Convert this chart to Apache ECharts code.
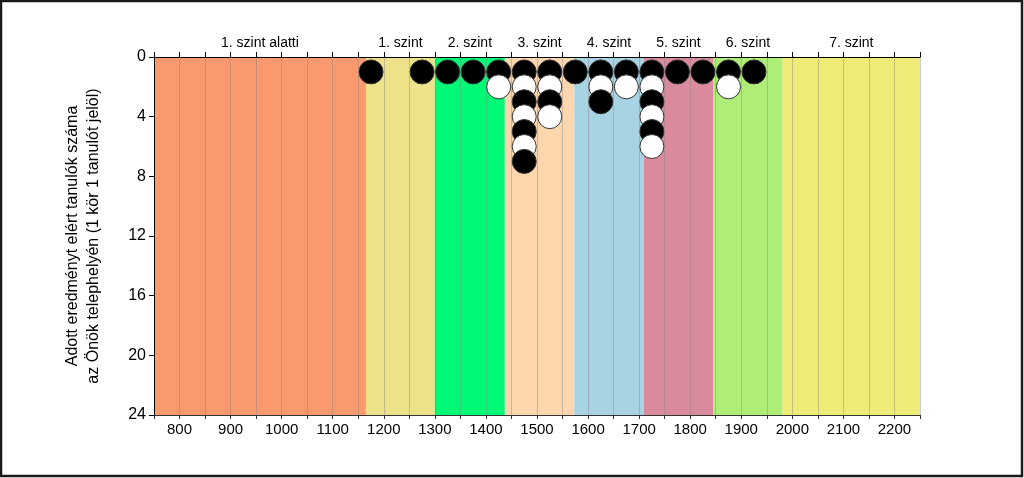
<!DOCTYPE html>
<html>
<head>
<meta charset="utf-8">
<script src="https://cdn.jsdelivr.net/npm/echarts@6/dist/echarts.min.js"></script>
<style>
  html, body { margin: 0; padding: 0; background: #fff; }
  #myChart { width: 1024px; height: 478px; }
</style>
</head>
<body>
<div id="myChart"></div>
<script>
// score bins (bin centres, 50 points wide) and number of students in each
const binCenters = [1175, 1225, 1275, 1325, 1375, 1425, 1475, 1525, 1575, 1625, 1675, 1725, 1775, 1825, 1875, 1925]
const binCounts = [1, 0, 1, 1, 1, 2, 7, 4, 1, 3, 2, 6, 1, 1, 2, 1]

// proficiency levels
const levelNames = ['1. szint alatti', '1. szint', '2. szint', '3. szint', '4. szint', '5. szint', '6. szint', '7. szint']
const levelFrom = [750, 1165, 1300, 1437, 1573, 1709, 1845, 1981]
const levelTo = [1165, 1300, 1437, 1573, 1709, 1845, 1981, 2250]
const levelColors = ['#FB996E', '#EDE18A', '#00FA76', '#FED6AE', '#A8D3E2', '#D98A9C', '#AEED78', '#EEEC76']

// one circle per student, stacked downwards; black/white alternating
const dots = []
binCenters.forEach((x, i) => {
  for (let k = 1; k <= binCounts[i]; k++) {
    dots.push({
      value: [x, k],
      itemStyle: { color: k % 2 === 1 ? '#000' : '#fff' }
    })
  }
})

const bands = levelNames.map((name, i) => [
  { name: name, xAxis: levelFrom[i], yAxis: 0, itemStyle: { color: levelColors[i], opacity: 1 } },
  { xAxis: levelTo[i], yAxis: 24 }
])

const myChart = echarts.init(document.getElementById('myChart'))
myChart.setOption({
  animation: false,
  textStyle: { fontFamily: 'Liberation Sans, Arial, sans-serif' },
  graphic: [{
    type: 'rect',
    shape: { x: 1, y: 1, width: 1021, height: 475 },
    style: { fill: 'none', stroke: '#1a1a1a', lineWidth: 2.5 },
    z: 100
  }],
  grid: { left: 154, right: 104, top: 57, bottom: 63 },
  xAxis: [
    {
      type: 'value',
      position: 'bottom',
      min: 750,
      max: 2250,
      interval: 50,
      z: 3,
      axisLine: { show: true, onZero: false, lineStyle: { color: '#333', width: 1 } },
      axisTick: { show: true, length: 4, lineStyle: { color: '#333' } },
      axisLabel: {
        color: '#000',
        fontSize: 15,
        margin: 7,
        formatter: v => (v % 100 === 0 && v > 750 && v < 2250 ? String(v) : '')
      },
      splitLine: { show: true, lineStyle: { color: 'rgba(130,130,130,0.4)', width: 1 } }
    },
    {
      type: 'value',
      position: 'top',
      min: 750,
      max: 2250,
      interval: 50,
      z: 3,
      axisLine: { show: true, onZero: false, lineStyle: { color: '#000', width: 1 } },
      axisTick: { show: true, length: 5, lineStyle: { color: '#000' } },
      axisLabel: { show: false },
      splitLine: { show: false }
    }
  ],
  yAxis: {
    type: 'value',
    inverse: true,
    min: 0,
    max: 24,
    interval: 4,
    z: 3,
    name: 'Adott eredményt elért tanulók száma\naz Önök telephelyén (1 kör 1 tanulót jelöl)',
    nameLocation: 'middle',
    nameRotate: 90,
    nameGap: 50,
    nameTextStyle: { color: '#000', fontSize: 16, lineHeight: 21 },
    axisLine: { show: true, lineStyle: { color: '#000', width: 1 } },
    axisTick: { show: true, length: 5, lineStyle: { color: '#000' } },
    axisLabel: { color: '#000', fontSize: 16, margin: 8 },
    splitLine: { show: false }
  },
  series: [
    {
      type: 'scatter',
      data: [],
      z: 1,
      silent: true,
      markArea: {
        silent: true,
        label: {
          show: true,
          position: 'top',
          distance: 7,
          color: '#000',
          fontSize: 14
        },
        data: bands
      }
    },
    {
      type: 'scatter',
      z: 5,
      symbol: 'circle',
      symbolSize: 24,
      itemStyle: { borderColor: '#333', borderWidth: 1, opacity: 1 },
      data: dots
    }
  ]
})
</script>
</body>
</html>
